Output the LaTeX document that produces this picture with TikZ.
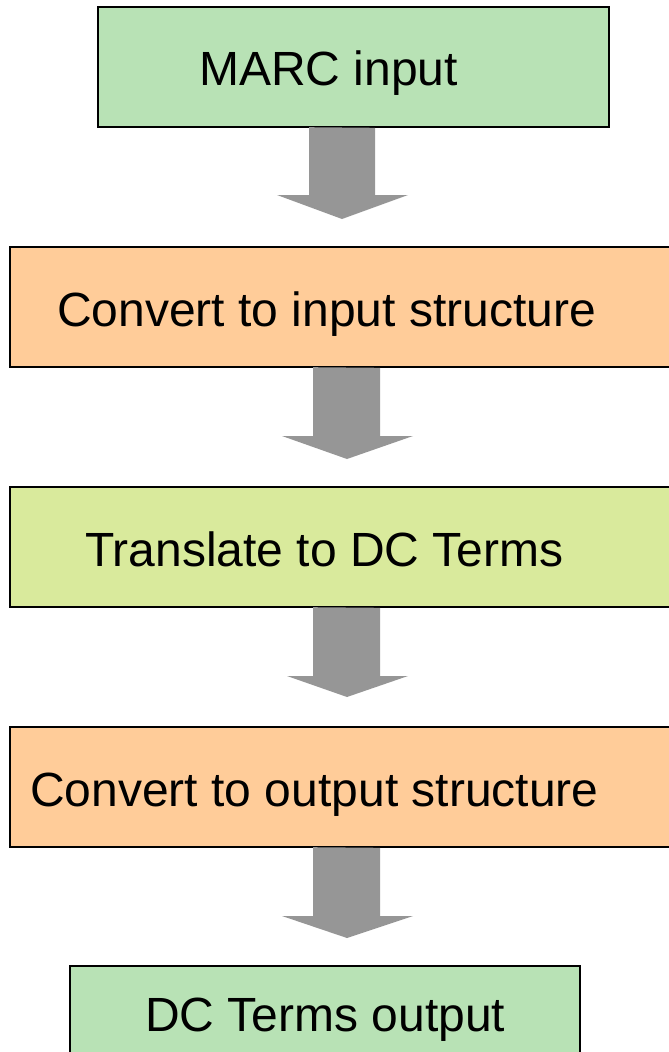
\documentclass[tikz,border=0pt]{standalone}
\usepackage{fontspec}
\setmainfont{Liberation Sans}
\definecolor{boxgreen}{HTML}{B8E2B5}
\definecolor{boxorange}{HTML}{FFCC99}
\definecolor{boxlime}{HTML}{D9EA9C}
\definecolor{arrowgray}{HTML}{969696}
\begin{document}
\begin{tikzpicture}[x=1pt,y=-1pt,
  box/.style={draw=black, line width=1.5pt, rectangle, inner sep=0pt},
  txt/.style={font=\fontsize{48}{52}\selectfont, inner sep=0pt, anchor=base west},
  blockarrow/.style={fill=arrowgray, draw=none}]
\useasboundingbox (0,0) rectangle (669,1052);
\begin{scope}
\clip (0,0) rectangle (669,1052);
% boxes
\draw[box, fill=boxgreen] (98,7) rectangle (609,127);
\draw[box, fill=boxorange] (10,247) rectangle (680,367);
\draw[box, fill=boxlime] (10,487) rectangle (680,607);
\draw[box, fill=boxorange] (10,727) rectangle (680,847);
\draw[box, fill=boxgreen] (70,966) rectangle (580,1070);
\end{scope}
\node[inner sep=0pt, minimum width=511pt, minimum height=120pt] (b1) at (353.5,67) {};
\node[inner sep=0pt, minimum width=670pt, minimum height=120pt] (b2) at (345,307) {};
\node[inner sep=0pt, minimum width=670pt, minimum height=120pt] (b3) at (345,547) {};
\node[inner sep=0pt, minimum width=670pt, minimum height=120pt] (b4) at (345,787) {};
\node[inner sep=0pt, minimum width=510pt, minimum height=104pt] (b5) at (325,1018) {};
% texts
\node[txt] (t1) at (199,85) {MARC input};
\node[txt] (t2) at (57,326) {Convert to input structure};
\node[txt] (t3) at (85,566) {Translate to DC Terms};
\node[txt] (t4) at (30,806) {Convert to output structure};
\node[txt] (t5) at (145,1031) {DC Terms output};
% block arrows
\fill[blockarrow] (b1.south -| 309,0) -- (375,127.8) -- (375,195) -- (408,195) -- (342,219) -- (277,195) -- (309,195) -- cycle;
\fill[blockarrow] (b2.south -| 313,0) -- (380,367.8) -- (380,436) -- (413,436) -- (347,459) -- (282,436) -- (313,436) -- cycle;
\fill[blockarrow] (b3.south -| 313,0) -- (380,607.8) -- (380,676) -- (408,676) -- (347,697) -- (287,676) -- (313,676) -- cycle;
\fill[blockarrow] (b4.south -| 313,0) -- (380,847.8) -- (380,916) -- (413,916) -- (347,938) -- (282,916) -- (313,916) -- cycle;
\end{tikzpicture}
\end{document}
